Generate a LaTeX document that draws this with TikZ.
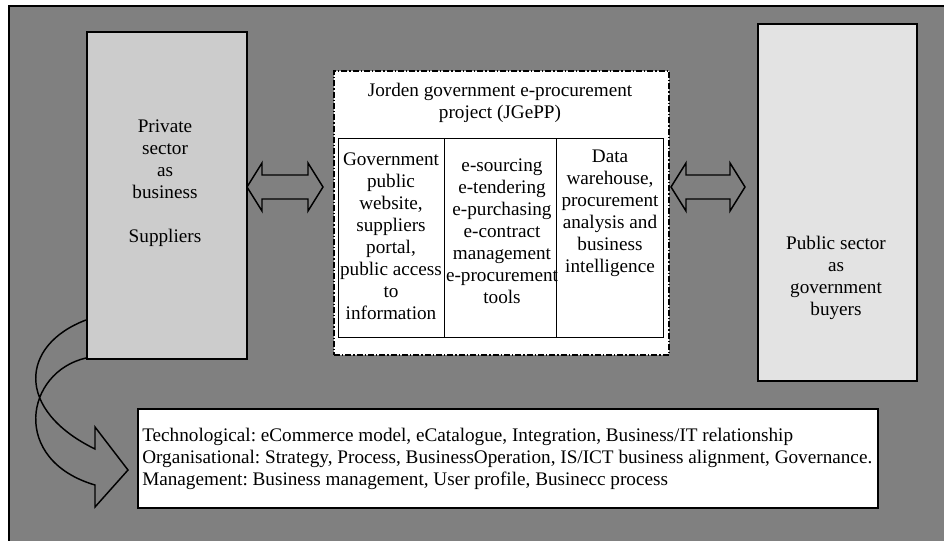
\documentclass[tikz,border=0pt]{standalone}
\usepackage{fontspec}
\setmainfont{Liberation Serif}
\definecolor{bggray}{HTML}{808080}
\definecolor{privfill}{HTML}{CCCCCC}
\definecolor{pubfill}{HTML}{E3E3E3}
\begin{document}
\frenchspacing
\begin{tikzpicture}[x=0.75pt,y=-0.75pt,
  txt/.style={font=\fontsize{14.4}{16.5}\selectfont, align=center, inner sep=0pt},
  sidebox/.style={draw, line width=1.5pt, anchor=north west, inner sep=0pt},
  cell/.style={draw, line width=1.1pt, fill=white, anchor=north west, inner sep=0pt,
    minimum height=199*0.75pt},
  blockarrow/.style={draw, line width=1.1pt, line join=miter}]
\useasboundingbox (0,0) rectangle (944,541);
\begin{scope}
\clip (0,0) rectangle (944,541);
% grey background panel
\draw[fill=bggray, line width=1.5pt] (9,6) rectangle (970,570);
\end{scope}

% side boxes
\node[sidebox, fill=privfill, minimum width=160*0.75pt, minimum height=327*0.75pt]
  (private) at (86,31) {};
\node[txt] (privtext) at (165,183) {Private\\sector\\as\\business\\[16.5pt]Suppliers};
\node[sidebox, fill=pubfill, minimum width=159*0.75pt, minimum height=357*0.75pt]
  (public) at (757,23) {};
\node[txt] (pubtext) at (836,278) {Public sector\\as\\government\\buyers};

% JGePP project frame
\node[draw, fill=white, line width=1.5pt, anchor=north west, inner sep=0pt,
  dash pattern=on 4.5pt off 1.5pt on 1pt off 1.5pt,
  minimum width=335*0.75pt, minimum height=284*0.75pt] (project) at (333,70) {};
\node[txt] (title) at (500,102.5) {Jorden government e-procurement\\project (JGePP)};
\node[cell, minimum width=106*0.75pt] (c1) at (338,138) {};
\node[cell, minimum width=112*0.75pt] (c2) at (444,138) {};
\node[cell, minimum width=107*0.75pt] (c3) at (556,138) {};
\node[txt] (t1) at (391,236.5) {Government\\public\\website,\\suppliers\\portal,\\public access\\to\\information};
\node[txt] (t2) at (502,231) {e-sourcing\\e-tendering\\e-purchasing\\e-contract\\management\\e-procurement\\tools};
\node[txt] (t3) at (610,213) {Data\\warehouse,\\procurement\\analysis and\\business\\intelligence};

% factors box
\node[sidebox, fill=white, minimum width=740*0.75pt, minimum height=99*0.75pt]
  (factors) at (137,408) {};
\node[txt, align=left, anchor=west] (ftext) at (142,459)
  {Technological: eCommerce model, eCatalogue, Integration, Business/IT relationship\\
   Organisational: Strategy, Process, BusinessOperation, IS/ICT business alignment, Governance.\\
   Management: Business management, User profile, Businecc process};

% double arrows between the boxes
\draw[blockarrow] (247,187) -- (262,163) -- (262,175) -- (308,175) -- (308,163)
  -- (323,187) -- (308,211) -- (308,199) -- (262,199) -- (262,211) -- cycle;
\draw[blockarrow] (671,187) -- (686,163) -- (686,175) -- (730,175) -- (730,163)
  -- (745,187) -- (730,211) -- (730,199) -- (686,199) -- (686,211) -- cycle;

% curved arrow from the suppliers box down to the factors box
\draw[blockarrow] (86,320) .. controls (20,345) and (15,410) .. (95,449)
  -- (95,427) -- (128,470) -- (95,507) -- (95,485)
  .. controls (10,460) and (25,372) .. (86,358);
\end{tikzpicture}
\end{document}
